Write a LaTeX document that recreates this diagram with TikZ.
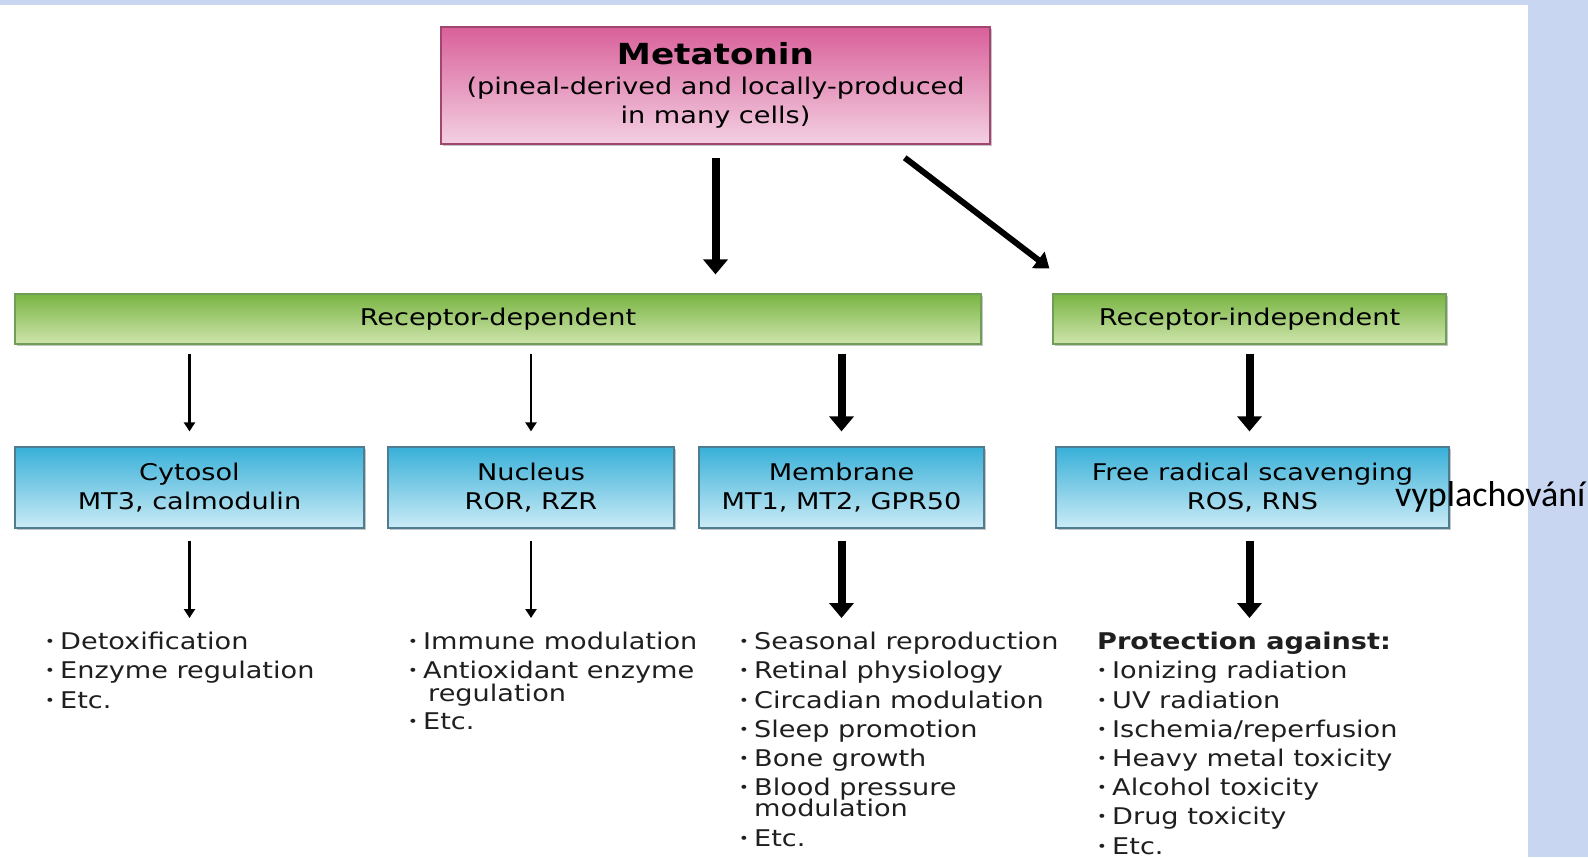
\documentclass[tikz,border=0pt]{standalone}
\usepackage{fontspec}
\setmainfont{DejaVu Sans}[FakeStretch=1.18]
\newfontfamily\calfont{Carlito}
\usetikzlibrary{arrows.meta,shadows}
\definecolor{bgblue}{HTML}{C9D6F2}
\definecolor{magtop}{HTML}{D9609A}
\definecolor{magbot}{HTML}{F3D0E2}
\definecolor{magbord}{HTML}{A0466F}
\definecolor{grtop}{HTML}{78B443}
\definecolor{grbot}{HTML}{CFE5AC}
\definecolor{grbord}{HTML}{6E9E57}
\definecolor{bltop}{HTML}{38B0D8}
\definecolor{blbot}{HTML}{CBEBF6}
\definecolor{blbord}{HTML}{4E7D92}
\newcommand\bl{\makebox[15pt][l]{\raisebox{2.5pt}{\fontsize{14}{14}\selectfont •}}}
\newcommand\nb{\hspace*{15pt}}
\tikzset{
  boxshadow/.style={drop shadow={shadow xshift=1.5pt,shadow yshift=-1.5pt,fill=black!45,opacity=0.5}},
  metabox/.style={draw=magbord, line width=1.5pt, top color=magtop, bottom color=magbot, align=center, boxshadow, inner sep=0pt},
  greenbar/.style={draw=grbord, line width=1.2pt, top color=grtop, bottom color=grbot, minimum height=50pt, boxshadow, inner sep=0pt},
  bluebox/.style={draw=blbord, line width=1.2pt, top color=bltop, bottom color=blbot, minimum height=81pt, align=center, boxshadow, inner sep=0pt},
  bigarr/.style={line width=8pt, -{Triangle[width=24pt,length=15pt]}},
  diagarr/.style={line width=6pt, -{Triangle[width=20pt,length=14pt]}},
  thinarr/.style={line width=2.5pt, -{Triangle[width=11pt,length=9pt]}},
  item/.style={anchor=base west, inner sep=0pt, text=black!88, font=\fontsize{23}{29}\selectfont},
  bodyfont/.style={font=\fontsize{23}{29}\selectfont}
}
\begin{document}
\begin{tikzpicture}[x=1pt,y=-1pt]
\useasboundingbox (0,0) rectangle (1588,857);
\fill[bgblue] (0,0) rectangle (1588,857);
\fill[white] (0,5) rectangle (1528,857);

% top box
\node[metabox, minimum width=549pt, minimum height=117pt, bodyfont] (meta) at (715.5,85.5)
  {{\fontsize{29}{29}\selectfont\bfseries Metatonin}\\[1pt](pineal-derived and locally-produced\\in many cells)};

% bars
\node[greenbar, minimum width=966pt, bodyfont] (rdep) at (498,319) {Receptor-dependent};
\node[greenbar, minimum width=393pt, bodyfont] (rind) at (1249.5,319) {Receptor-independent};

% blue boxes
\node[bluebox, minimum width=349pt, bodyfont] (cyt) at (189.5,487.5) {Cytosol\\MT3, calmodulin};
\node[bluebox, minimum width=286pt, bodyfont] (nuc) at (531,487.5) {Nucleus\\ROR, RZR};
\node[bluebox, minimum width=285pt, bodyfont] (mem) at (841.5,487.5) {Membrane\\MT1, MT2, GPR50};
\node[bluebox, minimum width=393pt, bodyfont] (frs) at (1252.5,487.5) {Free radical scavenging\\ROS, RNS};

\node[anchor=base west, inner sep=0pt, font=\calfont\fontsize{36}{36}\selectfont] (vyp) at (1395,506) {vyplachování};

% top arrows
\draw[bigarr, shorten <=13pt, shorten >=19pt] (meta.south) -- (meta.south |- rdep.north);
\draw[diagarr] ([xshift=-86pt,yshift=-13pt]meta.south east) -- ([xshift=-3pt,yshift=25pt]rind.north west);

% middle arrows
\draw[thinarr, shorten <=9pt, shorten >=15pt] (cyt.north |- rdep.south) -- (cyt.north);
\draw[thinarr, shorten <=9pt, shorten >=15pt] (nuc.north |- rdep.south) -- (nuc.north);
\draw[bigarr, shorten <=9pt, shorten >=15pt] (mem.north |- rdep.south) -- (mem.north);
\draw[bigarr, shorten <=9pt, shorten >=15pt] (rind.south) -- (rind.south |- frs.north);

% lower arrows
\coordinate (e1) at (189.5,618);
\coordinate (e2) at (531,618);
\coordinate (e3) at (841.5,618);
\coordinate (e4) at (1249.5,618);
\draw[thinarr, shorten <=12pt] (cyt.south) -- (e1);
\draw[thinarr, shorten <=12pt] (nuc.south) -- (e2);
\draw[bigarr, shorten <=12pt] (mem.south) -- (e3);
\draw[bigarr, shorten <=12pt] (frs.south -| rind.south) -- (e4);

% lists
\node[item] (a1) at (45,649) {\bl Detoxification};
\node[item] (a2) at (45,678) {\bl Enzyme regulation};
\node[item] (a3) at (45,708) {\bl Etc.};

\node[item] (b1) at (408,649) {\bl Immune modulation};
\node[item] (b2) at (408,678) {\bl Antioxidant enzyme};
\node[item] (b3) at (408,701) {\nb\hspace*{5pt}regulation};
\node[item] (b4) at (408,729) {\bl Etc.};

\node[item] (c1) at (739,649) {\bl Seasonal reproduction};
\node[item] (c2) at (739,678) {\bl Retinal physiology};
\node[item] (c3) at (739,708) {\bl Circadian modulation};
\node[item] (c4) at (739,737) {\bl Sleep promotion};
\node[item] (c5) at (739,766) {\bl Bone growth};
\node[item] (c6) at (739,795) {\bl Blood pressure};
\node[item] (c7) at (739,816) {\nb modulation};
\node[item] (c8) at (739,846) {\bl Etc.};

\node[item, font=\fontsize{23}{29}\selectfont\bfseries] (d0) at (1097,649) {Protection against:};
\node[item] (d1) at (1097,678) {\bl Ionizing radiation};
\node[item] (d2) at (1097,708) {\bl UV radiation};
\node[item] (d3) at (1097,737) {\bl Ischemia/reperfusion};
\node[item] (d4) at (1097,766) {\bl Heavy metal toxicity};
\node[item] (d5) at (1097,795) {\bl Alcohol toxicity};
\node[item] (d6) at (1097,824) {\bl Drug toxicity};
\node[item] (d7) at (1097,854) {\bl Etc.};
\end{tikzpicture}
\end{document}
